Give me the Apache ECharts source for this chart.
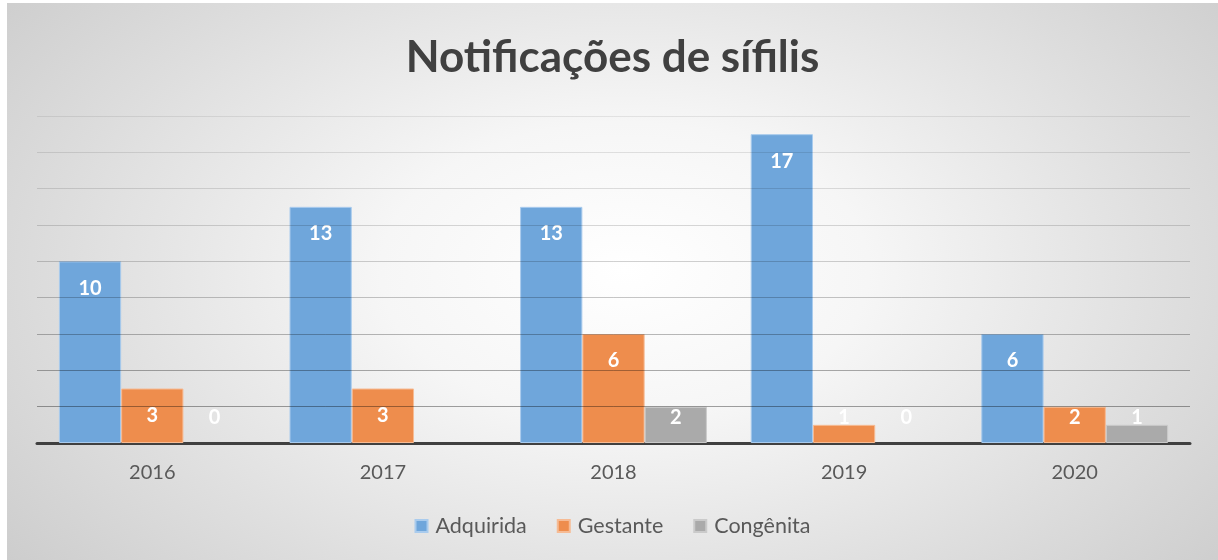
<!DOCTYPE html>
<html>
<head>
<meta charset="utf-8">
<script src="https://cdn.jsdelivr.net/npm/echarts@6/dist/echarts.min.js"></script>
<style>
    html, body {
        margin: 0;
        padding: 0;
        background: #ffffff;
    }
    .chart-con {
        position: absolute;
        left: 7px;
        top: 3px;
        width: 1211px;
        height: 557px;
        background: radial-gradient(ellipse 72% 95% at 51% 48%, #ffffff 0%, #f6f6f6 28%, #dfdfdf 62%, #c6c6c6 100%);
    }
</style>
</head>
<body>
<div id="chart" class="chart-con"></div>
<script>
const years = ['2016', '2017', '2018', '2019', '2020']
const adquirida = [10, 13, 13, 17, 6]
const gestante = [3, 3, 6, 1, 2]
const congenita = [0, null, 2, 0, 1]

// small bars: the label sits just above the base line, like the source
const toItems = (arr) => {
    return arr.map((v) => {
        if (v === null) return '-'
        if (v < 3) {
            return {
                value: v,
                itemStyle: v === 0 ? { borderWidth: 0 } : {},
                label: {
                    position: ['50%', '100%'],
                    offset: [0, -25],
                    align: 'center',
                    verticalAlign: 'middle'
                }
            }
        }
        return v
    })
}

const labelStyle = {
    show: true,
    position: 'insideTop',
    distance: 17,
    color: '#ffffff',
    fontFamily: 'Lato',
    fontWeight: 'bold',
    fontSize: 20
}

const myChart = echarts.init(document.getElementById('chart'))
const option = {
    backgroundColor: 'transparent',
    title: {
        text: 'Notificações de sífilis',
        left: 'center',
        top: 28,
        textStyle: {
            fontFamily: 'Lato',
            fontWeight: 'bold',
            fontSize: 44,
            color: '#404040'
        }
    },
    legend: {
        bottom: 18,
        left: 'center',
        itemWidth: 12,
        itemHeight: 12,
        itemGap: 30,
        icon: 'rect',
        textStyle: {
            fontFamily: 'Lato',
            fontSize: 21.5,
            color: '#595959',
            padding: [0, 0, 0, 3]
        },
        data: ['Adquirida', 'Gestante', 'Congênita']
    },
    grid: {
        left: 30,
        right: 28,
        top: 113,
        bottom: 117,
        containLabel: false
    },
    xAxis: {
        type: 'category',
        data: years,
        axisLine: {
            lineStyle: {
                color: '#404040',
                width: 3
            }
        },
        axisTick: { show: false },
        axisLabel: {
            margin: 20,
            fontFamily: 'Lato',
            fontSize: 20,
            color: '#595959'
        }
    },
    yAxis: {
        type: 'value',
        min: 0,
        max: 18,
        interval: 2,
        z: 3,
        axisLabel: { show: false },
        axisLine: { show: false },
        axisTick: { show: false },
        splitLine: {
            show: true,
            lineStyle: {
                width: 1,
                color: [
                    'rgba(0,0,0,0)',
                    'rgba(0,0,0,0.36)',
                    'rgba(0,0,0,0.32)',
                    'rgba(0,0,0,0.27)',
                    'rgba(0,0,0,0.22)',
                    'rgba(0,0,0,0.18)',
                    'rgba(0,0,0,0.15)',
                    'rgba(0,0,0,0.12)',
                    'rgba(0,0,0,0.10)',
                    'rgba(0,0,0,0.08)'
                ]
            }
        }
    },
    series: [
        {
            name: 'Adquirida',
            type: 'bar',
            barGap: 0,
            barCategoryGap: '19%',
            data: toItems(adquirida),
            itemStyle: {
                color: '#6fa6db',
                borderColor: '#a9cbed',
                borderWidth: 1
            },
            label: labelStyle
        },
        {
            name: 'Gestante',
            type: 'bar',
            barGap: 0,
            barCategoryGap: '19%',
            data: toItems(gestante),
            itemStyle: {
                color: '#ee8d4d',
                borderColor: '#f6bb94',
                borderWidth: 1
            },
            label: labelStyle
        },
        {
            name: 'Congênita',
            type: 'bar',
            barGap: 0,
            barCategoryGap: '19%',
            data: toItems(congenita),
            itemStyle: {
                color: '#aaaaaa',
                borderColor: '#cacaca',
                borderWidth: 1
            },
            label: labelStyle
        }
    ]
}
myChart.setOption(option)
</script>
</body>
</html>
